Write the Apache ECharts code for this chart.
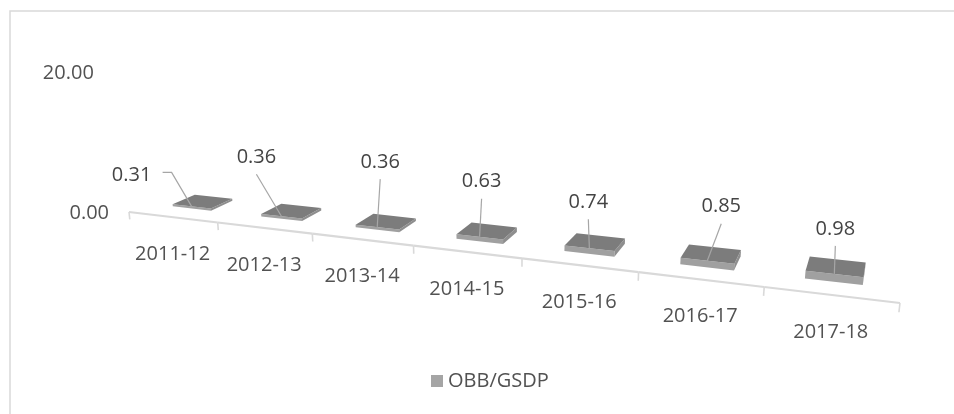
<!DOCTYPE html>
<html>
<head>
<meta charset="utf-8">
<script src="https://cdn.jsdelivr.net/npm/echarts@6/dist/echarts.min.js"></script>
<style>
  html, body { margin: 0; padding: 0; background: #ffffff; }
  #chart { width: 954px; height: 414px; }
</style>
</head>
<body>
<div id="chart"></div>
<script>
// Category labels (fiscal years)
const categories = ['2011-12', '2012-13', '2013-14', '2014-15', '2015-16', '2016-17', '2017-18'];
// OBB as a share of GSDP (%)
const obbGsdp = [0.31, 0.36, 0.36, 0.63, 0.74, 0.85, 0.98];
// Value axis tick labels
const valueTicks = [0, 20];

// Where each data label sits relative to its bar (screen px)
const labelOffsets = [[-60, -31], [-25, -59], [3, -65], [2, -55], [-1, -46], [14, -54], [1, -45]];

// Perspective projection of the 3D plot box: u runs along the categories,
// w goes back into the depth of the floor, h is the normalised value height.
const CAM = {
  x0: 129, y0: 212,
  au: 572.8, ay: 24.3,
  pw: 79.4, qw: -10.43,
  ph: -19.54, qh: -142.75,
  cu: -0.2202, cw: 0.0862, ch: -0.03824
};
function project(u, w, h) {
  const d = 1 + CAM.cu * u + CAM.cw * w + CAM.ch * h;
  return [
    (CAM.au * u + CAM.pw * w + CAM.ph * h + CAM.x0) / d,
    (CAM.ay * u + CAM.qw * w + CAM.qh * h + CAM.y0) / d
  ];
}

const FONT = '20px "Open Sans"';
const TEXT = '#525252';
const BAR_RATIO = 0.44;       // bar width as share of the category band
const W_FRONT = 0.30, W_BACK = 0.66;

function norm(cs, pt) {
  return {
    u: (pt[0] - cs.x) / cs.width,
    h: (cs.y + cs.height - pt[1]) / cs.height
  };
}

function signedArea(pts) {
  let s = 0;
  for (let k = 0; k < pts.length; k++) {
    const a = pts[k], b = pts[(k + 1) % pts.length];
    s += a[0] * b[1] - b[0] * a[1];
  }
  return s;
}

function renderBar(params, api) {
  const cs = params.coordSys;
  const i = api.value(0), v = api.value(1);
  const top = norm(cs, api.coord([i, v]));
  const du = api.size([1, 0])[0] * BAR_RATIO / 2 / cs.width;
  const u0 = top.u - du, u1 = top.u + du, h = top.h;
  const P = (u, w, hh) => project(u, w, hh);

  const children = [];
  const front = [P(u0, W_FRONT, 0), P(u1, W_FRONT, 0), P(u1, W_FRONT, h), P(u0, W_FRONT, h)];
  children.push({ type: 'polygon', shape: { points: front }, style: { fill: '#a0a0a0' } });

  const left = [P(u0, W_FRONT, 0), P(u0, W_BACK, 0), P(u0, W_BACK, h), P(u0, W_FRONT, h)];
  const right = [P(u1, W_FRONT, 0), P(u1, W_BACK, 0), P(u1, W_BACK, h), P(u1, W_FRONT, h)];
  if (signedArea(left) > 0) children.push({ type: 'polygon', shape: { points: left }, style: { fill: '#8e8e8e' } });
  if (signedArea(right) < 0) children.push({ type: 'polygon', shape: { points: right }, style: { fill: '#8e8e8e' } });

  const cap = [P(u0, W_FRONT, h), P(u1, W_FRONT, h), P(u1, W_BACK, h), P(u0, W_BACK, h)];
  children.push({ type: 'polygon', shape: { points: cap }, style: { fill: '#7c7c7c' } });

  // data label with its leader line
  const end = P(top.u, W_FRONT, h);
  const off = labelOffsets[i];
  const lx = end[0] + off[0], ly = end[1] + off[1];
  let leader;
  if (off[0] < -40) {
    leader = [[lx + 31, ly - 3], [lx + 40, ly - 3], end];
  } else {
    leader = [[lx, ly + 17], end];
  }
  children.push({ type: 'polyline', shape: { points: leader }, style: { stroke: '#a6a6a6', lineWidth: 1.2, fill: null } });
  children.push({
    type: 'text', x: lx, y: ly,
    style: { text: v.toFixed(2), align: 'center', verticalAlign: 'middle', font: FONT, fill: '#444444' }
  });
  return { type: 'group', children: children };
}

function renderCategoryAxis(params, api) {
  const cs = params.coordSys;
  const i = api.value(0);
  const band = api.size([1, 0])[0];
  const c = api.coord([i, 0]);
  const uL = (c[0] - band / 2 - cs.x) / cs.width;
  const uR = (c[0] + band / 2 - cs.x) / cs.width;
  const uC = (c[0] - cs.x) / cs.width;
  const children = [];
  const a = project(uL, 0, 0), b = project(uR, 0, 0);
  children.push({ type: 'line', shape: { x1: a[0], y1: a[1], x2: b[0], y2: b[1] }, style: { stroke: '#d9d9d9', lineWidth: 2.2 } });
  const ticks = [uL];
  if (i === categories.length - 1) ticks.push(uR);
  ticks.forEach(function (u) {
    const t0 = project(u, 0, 0), t1 = project(u, 0, -0.055);
    children.push({ type: 'line', shape: { x1: t0[0], y1: t0[1], x2: t1[0], y2: t1[1] }, style: { stroke: '#d9d9d9', lineWidth: 1.6 } });
  });
  const lp = project(uC, 0, 0);
  children.push({
    type: 'text', x: lp[0], y: lp[1] + 37,
    style: { text: categories[i], align: 'center', verticalAlign: 'middle', font: FONT, fill: TEXT }
  });
  return { type: 'group', children: children };
}

function renderValueAxis(params, api) {
  const cs = params.coordSys;
  const t = api.value(1);
  const h = norm(cs, api.coord([0, t])).h;
  const p = project(0, 0, h);
  return {
    type: 'text', x: p[0] - 20, y: p[1] + 1,
    style: { text: t.toFixed(2), align: 'right', verticalAlign: 'middle', font: FONT, fill: TEXT }
  };
}

const chart = echarts.init(document.getElementById('chart'), null, { renderer: 'canvas' });
chart.setOption({
  animation: false,
  backgroundColor: '#ffffff',
  textStyle: { fontFamily: 'Open Sans' },
  graphic: [{
    type: 'rect', silent: true,
    shape: { x: 10, y: 11, width: 960, height: 420 },
    style: { fill: 'none', stroke: '#d9d9d9', lineWidth: 1.5 }
  }],
  grid: { left: 100, right: 100, top: 50, bottom: 50 },
  xAxis: { type: 'category', data: categories, show: false },
  yAxis: { type: 'value', min: 0, max: 20, interval: 20, show: false },
  legend: {
    data: ['OBB/GSDP'],
    left: 431, top: 371, padding: 0,
    icon: 'rect', itemWidth: 12, itemHeight: 12, itemGap: 10,
    textStyle: { fontFamily: 'Open Sans', fontSize: 20, color: TEXT },
    selectedMode: false
  },
  series: [
    {
      type: 'custom', name: 'axis', silent: true, clip: false,
      data: categories.map(function (_, i) { return [i, 0]; }),
      renderItem: renderCategoryAxis, z: 1
    },
    {
      type: 'custom', name: 'valueTicks', silent: true, clip: false,
      data: valueTicks.map(function (t) { return [0, t]; }),
      renderItem: renderValueAxis, z: 1
    },
    {
      type: 'custom', name: 'OBB/GSDP', clip: false,
      itemStyle: { color: '#a5a5a5' },
      data: obbGsdp.map(function (v, i) { return [i, v]; }),
      renderItem: renderBar, z: 2
    }
  ]
});
</script>
</body>
</html>
